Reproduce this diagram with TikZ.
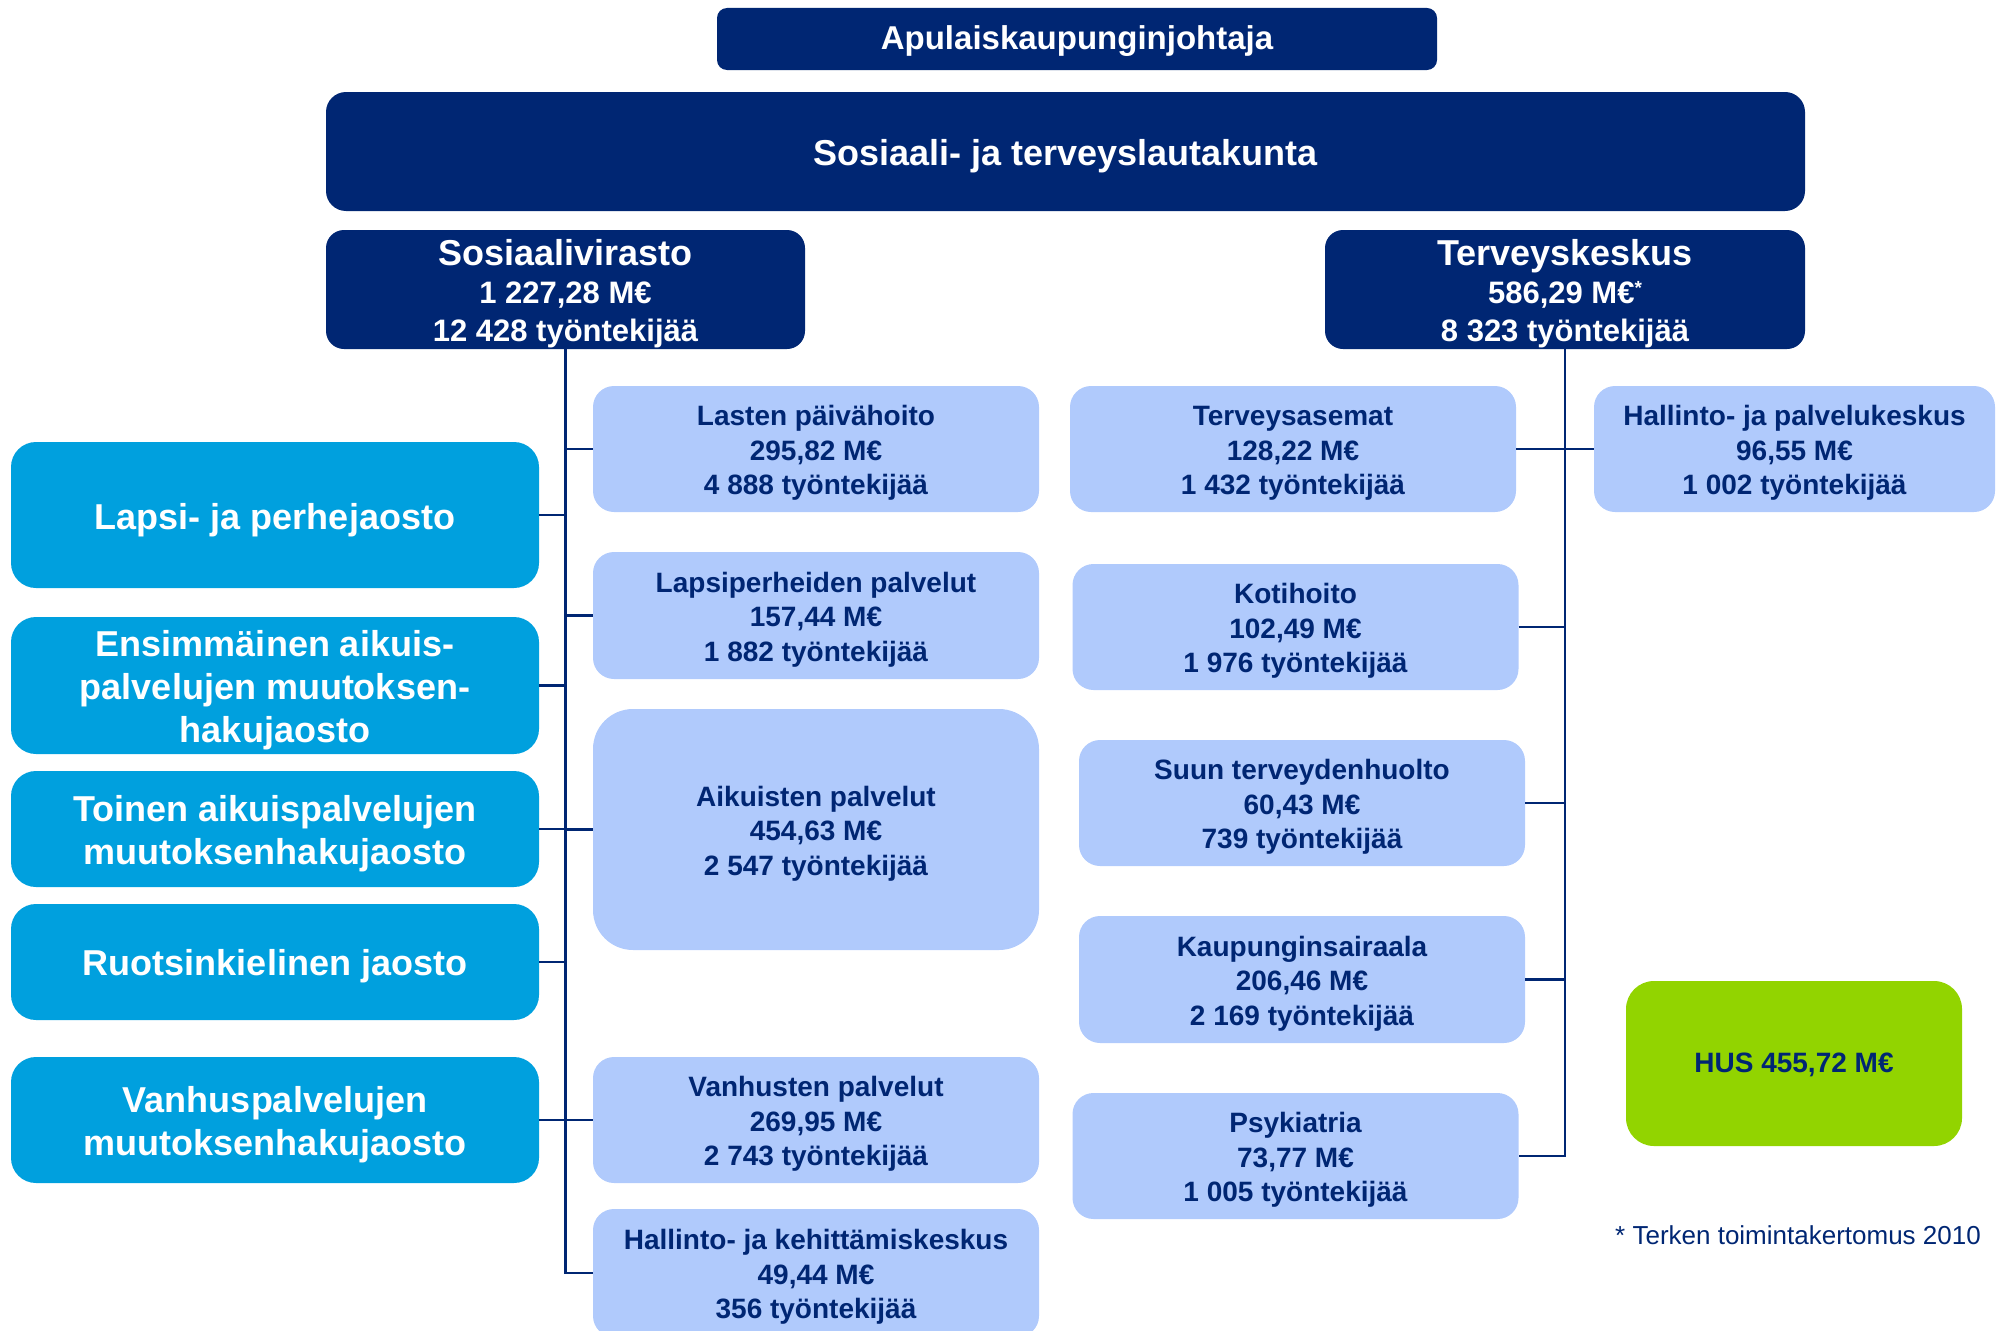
\documentclass[tikz,border=0pt]{standalone}
\usepackage{fontspec}
\setmainfont{Liberation Sans}
\definecolor{navy}{RGB}{0,38,115}
\definecolor{cyanbox}{RGB}{0,160,222}
\definecolor{lightbox}{RGB}{176,202,252}
\definecolor{husgreen}{RGB}{146,212,0}
% invisible struts on a first line, to balance cap height against descenders
\newcommand{\liftL}{\rule{0pt}{28.5pt}}
\newcommand{\liftC}{\rule{0pt}{36pt}}
\newcommand{\liftD}{\rule{0pt}{34.5pt}}
\begin{document}
\begin{tikzpicture}[x=1pt,y=-1pt,
  base/.style={inner sep=0pt, align=center},
  lift/.style={execute at begin node={\rule{0pt}{#1}}},
  darkbox/.style={base, fill=navy, text=white, rounded corners=18pt},
  cyanb/.style={base, fill=cyanbox, text=white, rounded corners=25pt,
    minimum width=528pt, font=\bfseries\fontsize{36}{43}\selectfont},
  lightb/.style={base, fill=lightbox, text=navy, rounded corners=21pt,
    minimum width=446pt, font=\bfseries\fontsize{28}{34.5}\selectfont},
  conn/.style={draw=navy, line width=2.5pt}]
\path[use as bounding box, clip] (0,0) rectangle (2004,1330);

% top of the hierarchy
\node[darkbox, rounded corners=10pt, minimum width=720pt, minimum height=62pt, lift=28.5pt,
  font=\bfseries\fontsize{33}{38}\selectfont] (apu) at (1077,39) {Apulaiskaupunginjohtaja};
\node[darkbox, rounded corners=20pt, minimum width=1479pt, minimum height=119pt, lift=36pt,
  font=\bfseries\fontsize{36}{40}\selectfont] (board) at (1065.5,151.5) {Sosiaali- ja terveyslautakunta};

% the two agencies
\node[darkbox, minimum width=479pt, minimum height=119pt,
  font=\bfseries\fontsize{31}{38}\selectfont] (sos) at (565.5,289.5)
  {\liftD{\fontsize{36}{38}\selectfont Sosiaalivirasto}\\1 227,28 M€\\12 428 työntekijää};
\node[darkbox, minimum width=480pt, minimum height=119pt,
  font=\bfseries\fontsize{31}{38}\selectfont] (ter) at (1565,289.5)
  {\liftD{\fontsize{36}{38}\selectfont Terveyskeskus}\\586,29 M€\raisebox{0.3em}{\fontsize{19}{19}\selectfont *}\\8 323 työntekijää};

% divisions of the board
\node[cyanb, minimum height=146pt, lift=36pt] (lapsi) at (275,515) {Lapsi- ja perhejaosto};
\node[cyanb, minimum height=137pt] (ens) at (275,685.5) {\liftC Ensimmäinen aikuis-\\palvelujen muutoksen-\\hakujaosto};
\node[cyanb, minimum height=116pt] (toinen) at (275,829) {\liftC Toinen aikuispalvelujen\\muutoksenhakujaosto};
\node[cyanb, minimum height=116pt, lift=34pt] (ruotsi) at (275,962) {Ruotsinkielinen jaosto};
\node[cyanb, minimum height=126pt] (vanhus) at (275,1120) {\liftC Vanhuspalvelujen\\muutoksenhakujaosto};

% social services departments
\node[lightb, minimum height=126pt] (lasten) at (816,449) {\liftL Lasten päivähoito\\295,82 M€\\4 888 työntekijää};
\node[lightb, minimum height=127pt] (lapsiper) at (816,615.5) {\liftL Lapsiperheiden palvelut\\157,44 M€\\1 882 työntekijää};
\node[lightb, minimum height=241pt, rounded corners=40pt] (aikuis) at (816,829.5) {\liftL Aikuisten palvelut\\454,63 M€\\2 547 työntekijää};
\node[lightb, minimum height=126pt] (vanhusten) at (816,1120) {\liftL Vanhusten palvelut\\269,95 M€\\2 743 työntekijää};
\node[lightb, minimum height=128pt] (hke) at (816,1273) {\liftL Hallinto- ja kehittämiskeskus\\49,44 M€\\356 työntekijää};

% health centre departments
\node[lightb, minimum height=126pt] (tas) at (1293,449) {\liftL Terveysasemat\\128,22 M€\\1 432 työntekijää};
\node[lightb, minimum height=126pt] (koti) at (1295.5,627) {\liftL Kotihoito\\102,49 M€\\1 976 työntekijää};
\node[lightb, minimum height=126pt] (suun) at (1302,803) {\liftL Suun terveydenhuolto\\60,43 M€\\739 työntekijää};
\node[lightb, minimum height=127pt] (kaup) at (1302,979.5) {\liftL Kaupunginsairaala\\206,46 M€\\2 169 työntekijää};
\node[lightb, minimum height=126pt] (psyk) at (1295.5,1156) {\liftL Psykiatria\\73,77 M€\\1 005 työntekijää};
\node[lightb, minimum width=401pt, minimum height=126pt] (hpk) at (1794.5,449) {\liftL Hallinto- ja palvelukeskus\\96,55 M€\\1 002 työntekijää};

\node[lightb, fill=husgreen, minimum width=336pt, minimum height=165pt, rounded corners=28pt, lift=22pt] (hus) at (1794,1063.5) {HUS 455,72 M€};

\node[anchor=base west, inner sep=0pt, text=navy, font=\fontsize{26}{30}\selectfont] (note) at (1615,1244) {* Terken toimintakertomus 2010};

% social services tree
\draw[conn] (sos.south) -- (sos.south |- hke.west) -- (hke.west);
\foreach \n in {lasten,lapsiper,aikuis,vanhusten}
  \draw[conn] (sos.south |- \n.west) -- (\n.west);
\foreach \n in {lapsi,ens,toinen,ruotsi,vanhus}
  \draw[conn] (\n.east) -- (\n.east -| sos.south);

% health centre tree
\draw[conn] (ter.south) -- (ter.south |- psyk.east) -- (psyk.east);
\draw[conn] (tas.east) -- (hpk.west);
\foreach \n in {koti,suun,kaup}
  \draw[conn] (\n.east) -- (\n.east -| ter.south);
\end{tikzpicture}
\end{document}
